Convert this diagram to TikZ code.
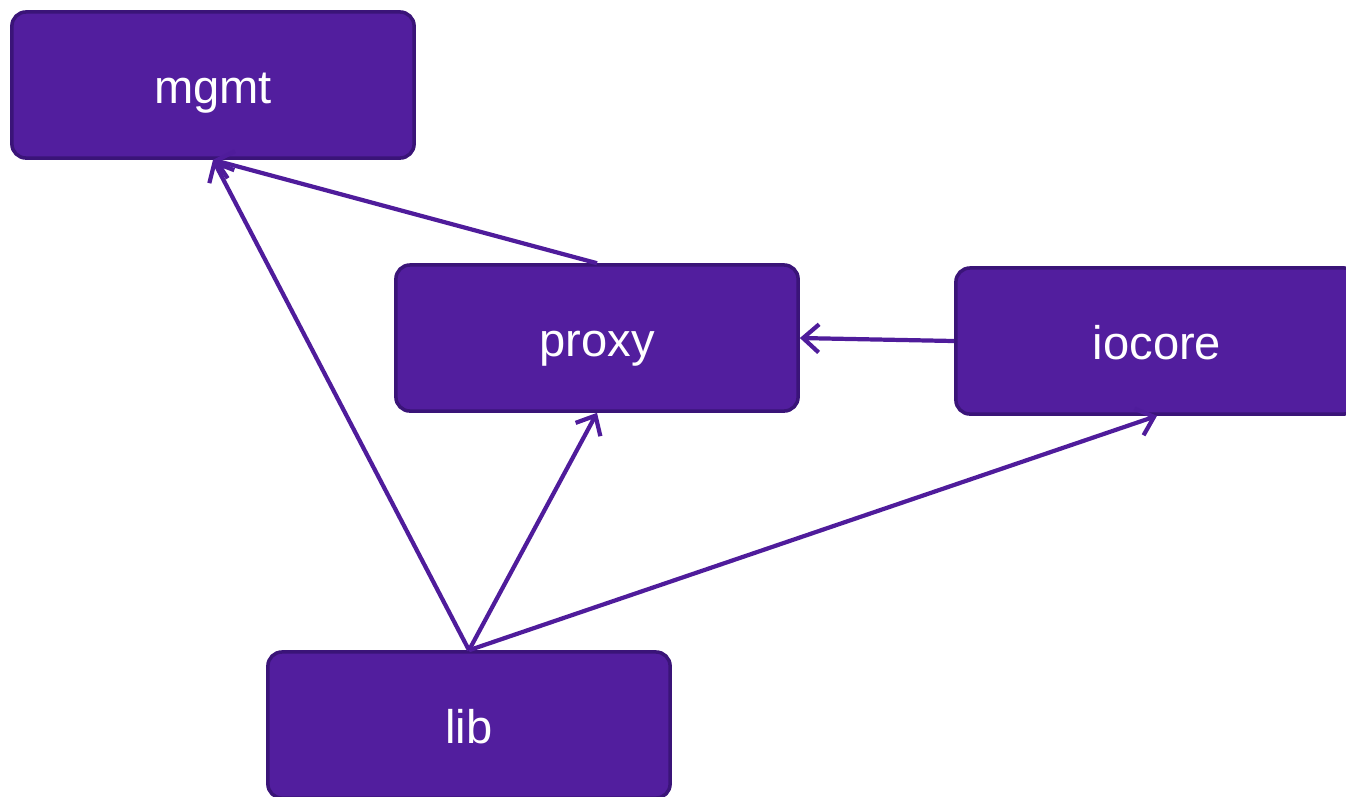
\documentclass[tikz,border=0pt]{standalone}
\usepackage{fontspec}
\setmainfont{Liberation Sans}
\usepackage{xcolor}
\usetikzlibrary{arrows.meta, shapes.geometric, calc}
\definecolor{modfill}{HTML}{521E9E}
\definecolor{modline}{HTML}{3A1478}
\definecolor{deparrow}{HTML}{4F1C9B}

\begin{document}
\begin{tikzpicture}[x=0.01cm, y=-0.01cm,
    module/.style = {draw=modline, fill=modfill, line width=1pt,
      rounded corners=4pt, minimum width=4.02cm, minimum height=1.46cm,
      text height=2ex, text depth=0pt,
      text=white, font=\fontsize{13.4}{16}\selectfont},
    dep/.style    = {draw=deparrow, line width=1.2pt,
      -{Straight Barb[length=4.5pt,width=8pt,line width=1.2pt]}}]
  \useasboundingbox (0,0) rectangle (1346,796);
  \node[module] (mgmt)   at (213,85)   {mgmt};
  \node[module] (proxy)  at (597,338)  {proxy};
  \node[module] (iocore) at (1157,341) {iocore};
  \node[module] (lib)    at (469,725)  {lib};
  \draw[dep] (lib.north)   -- (mgmt.south);
  \draw[dep] (lib.north)   -- (proxy.south);
  \draw[dep] (lib.north)   -- (iocore.south);
  \draw[dep] (proxy.north) -- (mgmt.south);
  \draw[dep] (iocore.west) -- (proxy.east);
\end{tikzpicture}
\end{document}
